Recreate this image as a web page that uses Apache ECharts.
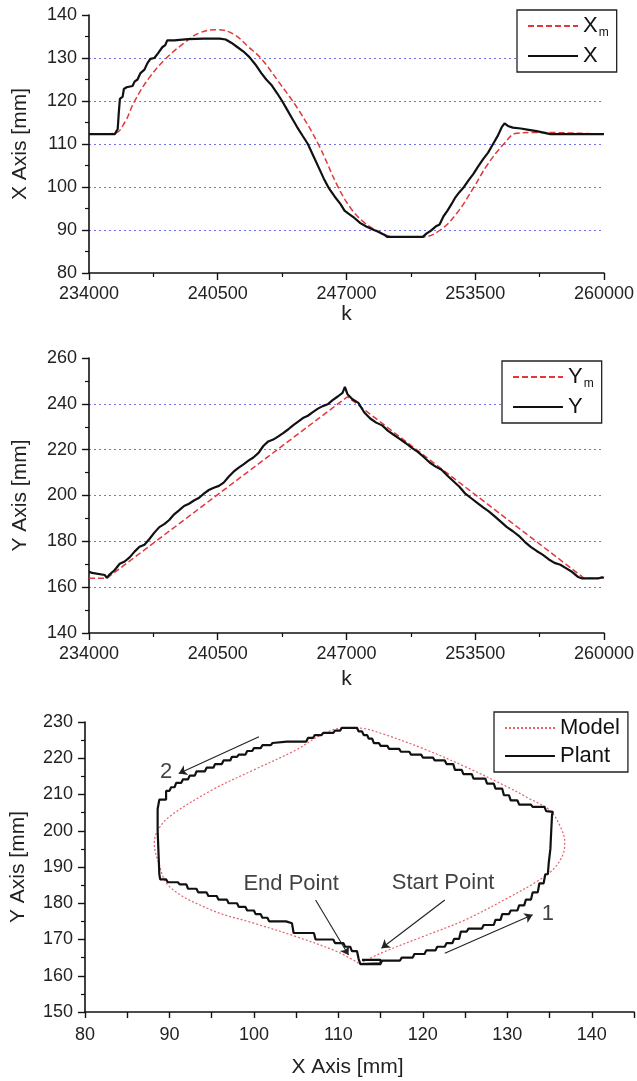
<!DOCTYPE html>
<html>
<head>
<meta charset="utf-8">
<script src="https://cdn.jsdelivr.net/npm/echarts@6/dist/echarts.min.js"></script>
<style>html,body{margin:0;padding:0;background:#fff}#c{width:637px;height:1081px}</style>
</head>
<body>
<div id="c"></div>
<script>
// ---------- Panel 1: X axis vs k ----------
const xPlantK = [234000,235300,235450,235500,235560,235700,235760,235900,236200,236300,236450,236600,236800,236950,237100,237300,237500,237700,237850,237950,238300,239000,239800,240600,240900,241200,241500,241800,242100,242400,242700,242950,243200,243500,243750,244000,244250,244500,244800,245050,245300,245600,245850,246100,246400,246700,246900,247100,247400,247700,248000,248300,248600,248900,249050,250850,251050,251250,251500,251700,251900,252100,252300,252500,252700,252900,253150,253400,253650,253900,254150,254400,254650,254850,254980,255150,255400,255800,256200,256600,257000,257300,260000];
const xPlantV = [112.3,112.3,113.5,117,120.5,121,122.8,123.2,123.5,124.5,125,126.5,127.3,128.8,129.8,130,131.2,132.5,133,134.1,134.1,134.4,134.5,134.5,134.3,133.5,132.5,131.5,130.2,128.5,126.5,125,123.8,121.8,120,118,116,114,111.8,110,107.5,104.5,102,99.8,97.8,96,94.5,93.8,92.8,91.6,90.8,90.2,89.6,88.9,88.4,88.4,89.2,89.8,90.8,91.3,93.2,94.5,96,97.6,98.8,99.8,101.5,103,104.8,106.5,108,110,112,114,114.8,114.2,113.8,113.6,113.3,113,112.6,112.3,112.3];
const xModelK = [234000,235300,235800,236305,237056,237908,238810,239561,240463,241315,242066,242667,243569,244571,245573,246576,247226,247828,248479,249431,250834,251735,252587,253439,254090,254942,255593,256595,260000];
const xModelV = [112.3,112.5,115,120,125.5,130,133.5,135.8,136.6,135.5,132.5,130,124.5,118,110,100,95,92,90,88.4,88.4,90,94,100,105,110,112.5,112.7,112.3];

// ---------- Panel 2: Y axis vs k ----------
const yPlantK = [234000,234150,234250,234800,234900,235050,235300,235550,235800,236050,236300,236550,236800,237050,237300,237550,237800,238050,238300,238560,238800,239050,239300,239560,239800,240050,240300,240560,240800,241050,241300,241560,241800,242050,242300,242560,242800,243050,243300,243560,243800,244050,244300,244560,244800,245050,245300,245560,245800,246050,246300,246560,246800,246920,247050,247300,247600,247900,248200,248500,248800,249100,249400,249700,250000,250300,250600,250900,251200,251500,251800,252100,252400,252700,253000,253300,253600,253900,254200,254500,254800,255100,255400,255700,256000,256300,256600,256900,257200,257500,257800,258100,258400,258700,258900,259700,259900,260000];
const yPlantV = [166.8,166.2,165.5,165.3,164.1,165.6,167.5,170.2,171.2,173,175.5,177.6,178.5,181,183.8,186.2,187.5,189.3,191.8,193.6,195.4,196.4,197.8,199,200.8,202.4,203.4,204.2,205.6,208.2,210.4,212.2,213.6,215.2,216.6,218.6,221.6,223.6,224.4,225.8,227.2,228.8,230.6,232.2,233.8,234.8,236.4,237.9,239,239.8,241.6,243.2,244.8,247.4,244.2,242,240.4,236.2,233.6,231.8,230.6,228.2,226.4,224.6,222.8,220.8,219,216.8,214.4,212.6,211.2,208.6,206.2,203.8,200.8,198.8,196.8,194.8,193,190.8,188.5,186.2,184.4,182.4,179.8,177.6,175.8,174.2,172.2,170.6,169.8,168.2,166.6,164.4,163.8,163.8,164.3,164.1];
const yModelK = [234000,234900,247050,259000,260000];
const yModelV = [163.9,163.9,243.1,163.9,163.9];

// ---------- Panel 3: X-Y plane ----------
const plantX = [112.6,115,115.2,117.3,117.5,118.8,119,120.2,120.4,121.5,121.7,122.6,122.8,123.5,123.7,124.3,124.5,125.2,125.4,127,127.2,128.4,128.6,129.2,129.4,130.2,130.4,131.2,131.4,132,132.2,132.8,133,133.6,133.8,134.3,134.5,134.8,134.9,135.1,135.2,135.3,135.4,134.6,134.4,133,132.8,131.4,131.2,130.4,130.2,129.6,129.4,128.6,128.4,127.6,127.4,126,125.8,124.8,124.6,123.8,123.6,122.8,122.6,121.4,121.2,120,119.8,118.6,118.4,117.4,117.2,116,115.8,115,114.8,114.2,114,113.6,113.4,113,112.8,112.4,112.2,110.4,110.2,109.6,109.4,108.2,108,107.2,107,106.4,106.2,103.9,103.7,102.2,102,101,100.8,100,99.8,99.2,99,98.2,98,97.4,97.2,96.4,96.2,95.4,95.2,94.4,94.2,93.2,93,92.4,92.2,91.6,91.4,90.8,90.6,90.2,90,89.6,89.6,88.8,88.6,88.6,88.7,88.8,88.9,89.6,89.8,91,91.2,92,92.2,93.2,93.4,94.4,94.6,95.6,95.8,96.8,97,98,98.2,99,99.2,100,100.2,100.8,101,101.6,101.8,103.8,104,104.5,104.7,107.1,107.3,109.4,109.6,110.6,110.8,111.4,111.6,112.2,112.4,112.6,115,115,112.8];
const plantY = [163.2,163.4,164.2,164.2,165,165,166,166,167,167,168,168,169,169,170.2,170.2,172.2,172.2,173,173,174,174,175.4,175.4,177,177,178,178,179.4,179.4,181,181,183,183,185.5,185.5,188,188,191,195,200,204.5,205.2,205.4,206.6,206.6,207.2,207.2,208.4,208.4,209.8,209.8,211.6,211.6,213,213,214.4,214.4,215.6,215.6,216.8,216.8,218.4,218.4,219.4,219.4,220.2,220.2,221,221,221.8,221.8,222.6,222.6,223.4,223.4,224.2,224.2,225.4,225.4,226.4,226.4,227.4,227.4,228.4,228.4,227.6,227.6,227,227,226.4,226.4,225.6,225.6,224.6,224.6,224.2,224.2,223.6,223.6,222.8,222.8,222,222,221,221,220.4,220.4,219.4,219.4,218.4,218.4,217.4,217.4,216.4,216.4,215.2,215.2,214.2,214.2,213.2,213.2,212,212,211,211,208.6,208.6,206,200,194,188,186.6,186.6,185.8,185.8,185.2,185.2,184,184,183,183,182,182,181,181,180,180,179,179,178,178,177,177,176,176,175,175,174.5,174.5,171.8,171.8,170,170,169,169,168,168,166.8,166.8,164.6,163.2,163.2,164.4,164.4];
const modelX = [112.5,115,120,125,130,133.5,135.5,136.6,136.8,136.2,135,132.5,130,125,120,115,112.5,110.5,108,105,100,95,90,88.6,88.2,88.6,90,95,100,105,110,112.5];
const modelY = [163.3,166.2,170.8,175.4,181.4,186,189.5,193.5,197,201.5,205.7,209,212.1,217.7,222.7,226.9,228.3,228.3,226.5,222.3,216.8,211.2,203.9,200,196.5,192,184.6,178.1,174.5,170.8,166.5,163.3];

// annotations (data coordinates of panel 3)
const noteText = ['End Point','Start Point','1','2'];
const notePos = [[104.4,185.2],[122.4,185.6],[134.8,177],[89.6,216.3]];
const arrowFrom = [[107.3,180.9],[122.6,180.9],[122.6,166.2],[100.6,225.9]];
const arrowTo = [[111.2,165.7],[115.1,167.6],[133.0,176.8],[91.1,215.8]];

// tick settings
const kMin = 234000, kMax = 260000, kStep = 6500;

const FONT = 'Liberation Sans';
const zip = (a, b) => a.map((v, i) => [v, b[i]]);
const axisCommon = {
  axisLine: {show: true, onZero: false, lineStyle: {color: '#111', width: 1.6}},
  axisTick: {show: true, length: 7, lineStyle: {color: '#111', width: 1.4}},
  minorTick: {show: true, splitNumber: 2, length: 4, lineStyle: {color: '#111', width: 1.2}},
  axisLabel: {color: '#222', fontSize: 18, fontFamily: FONT, margin: 12, formatter: v => String(v)},
  nameTextStyle: {color: '#222', fontSize: 21, fontFamily: FONT},
  nameLocation: 'middle'
};
const gridLine = {show: true, showMinLine: false, showMaxLine: false, lineStyle: {color: '#7373e6', type: [2, 3], width: 1}};

const xAxes = [
  Object.assign({}, axisCommon, {gridIndex: 0, type: 'value', min: kMin, max: kMax, interval: kStep, name: 'k', nameGap: 29, splitLine: {show: false}}),
  Object.assign({}, axisCommon, {gridIndex: 1, type: 'value', min: kMin, max: kMax, interval: kStep, name: 'k', nameGap: 36, splitLine: {show: false}}),
  Object.assign({}, axisCommon, {gridIndex: 2, type: 'value', min: 80, max: 145, interval: 5, name: 'X Axis [mm]', nameGap: 45,
    minorTick: {show: false}, axisTick: {show: true, length: 6, lineStyle: {color: '#111', width: 1.4}},
    nameTextStyle: {color: '#222', fontSize: 21, fontFamily: FONT, padding: [0, 24, 0, 0]},
    axisLabel: {color: '#222', fontSize: 18, fontFamily: FONT, margin: 14, formatter: v => (v % 10 === 0 && v < 145) ? String(v) : ''},
    splitLine: {show: false}})
];
const yAxes = [
  Object.assign({}, axisCommon, {gridIndex: 0, type: 'value', min: 80, max: 140, interval: 10, name: 'X Axis [mm]', nameGap: 58, splitLine: gridLine}),
  Object.assign({}, axisCommon, {gridIndex: 1, type: 'value', min: 140, max: 260, interval: 20, name: 'Y Axis [mm]', nameGap: 58, splitLine: gridLine}),
  Object.assign({}, axisCommon, {gridIndex: 2, type: 'value', min: 150, max: 230, interval: 10, name: 'Y Axis [mm]', nameGap: 56, splitLine: {show: false}})
];

const legendBase = {
  orient: 'vertical', borderColor: '#222', borderWidth: 1.3, backgroundColor: '#fff',
  itemWidth: 50, itemHeight: 14, itemGap: 6, padding: [5, 8, 5, 10],
  itemStyle: {opacity: 0},
  textStyle: {fontSize: 22, fontFamily: FONT, color: '#111',
    rich: {n: {fontSize: 22, fontFamily: FONT, color: '#111'}, s: {fontSize: 12, fontFamily: FONT, color: '#111', padding: [14, 0, 0, 1]}}},
  formatter: name => (name === 'Xm' || name === 'Ym') ? '{n|' + name[0] + '}{s|m}' : '{n|' + name + '}'
};

const red = '#e2383c';
const option = {
  animation: false,
  backgroundColor: '#fff',
  grid: [
    {left: 89, top: 15, width: 519, height: 258},
    {left: 89, top: 358, width: 519, height: 275},
    {left: 84, top: 722, width: 550, height: 290}
  ],
  xAxis: xAxes,
  yAxis: yAxes,
  legend: [
    Object.assign({}, legendBase, {data: ['Xm', 'X'], left: 517, top: 10}),
    Object.assign({}, legendBase, {data: ['Ym', 'Y'], left: 502, top: 361}),
    Object.assign({}, legendBase, {data: ['Model', 'Plant'], left: 494, top: 712})
  ],
  series: [
    {name: 'Xm', type: 'line', xAxisIndex: 0, yAxisIndex: 0, data: zip(xModelK, xModelV), symbol: 'none', smooth: 0.4,
      lineStyle: {color: red, width: 1.5, type: [6, 3]}, itemStyle: {color: red}, z: 2},
    {name: 'X', type: 'line', xAxisIndex: 0, yAxisIndex: 0, data: zip(xPlantK, xPlantV), symbol: 'none',
      lineStyle: {color: '#111', width: 2.2}, itemStyle: {color: '#111'}, z: 3},
    {name: 'Ym', type: 'line', xAxisIndex: 1, yAxisIndex: 1, data: zip(yModelK, yModelV), symbol: 'none',
      lineStyle: {color: red, width: 1.5, type: [6, 3]}, itemStyle: {color: red}, z: 2},
    {name: 'Y', type: 'line', xAxisIndex: 1, yAxisIndex: 1, data: zip(yPlantK, yPlantV), symbol: 'none',
      lineStyle: {color: '#111', width: 2.2}, itemStyle: {color: '#111'}, z: 3},
    {name: 'Model', type: 'line', xAxisIndex: 2, yAxisIndex: 2, data: zip(modelX, modelY), symbol: 'none', smooth: 0.35,
      lineStyle: {color: '#e5606a', width: 1.2, type: [2, 2]}, itemStyle: {color: '#e5606a'}, z: 2},
    {name: 'Plant', type: 'line', xAxisIndex: 2, yAxisIndex: 2, data: zip(plantX, plantY), symbol: 'none',
      lineStyle: {color: '#111', width: 2.2}, itemStyle: {color: '#111'}, z: 3},
    {name: 'notes', type: 'scatter', xAxisIndex: 2, yAxisIndex: 2, symbolSize: 1, itemStyle: {color: 'rgba(0,0,0,0)'},
      data: noteText.map((t, i) => ({name: t, value: notePos[i]})),
      label: {show: true, position: 'inside', formatter: '{b}', fontSize: 22, fontFamily: FONT, color: '#111'},
      z: 5},
    {name: 'arrows', type: 'line', xAxisIndex: 2, yAxisIndex: 2, data: [], symbol: 'none',
      lineStyle: {color: '#222'}, itemStyle: {color: '#222'},
      markLine: {silent: true, symbol: ['none', 'arrow'], symbolSize: 8, animation: false,
        lineStyle: {color: '#222', width: 1.1, type: 'solid'}, label: {show: false},
        data: arrowFrom.map((f, i) => [{coord: f}, {coord: arrowTo[i]}])}, z: 5}
  ]
};
const chart = echarts.init(document.getElementById('c'), null, {renderer: 'canvas'});
chart.setOption(option);
</script>
</body>
</html>
